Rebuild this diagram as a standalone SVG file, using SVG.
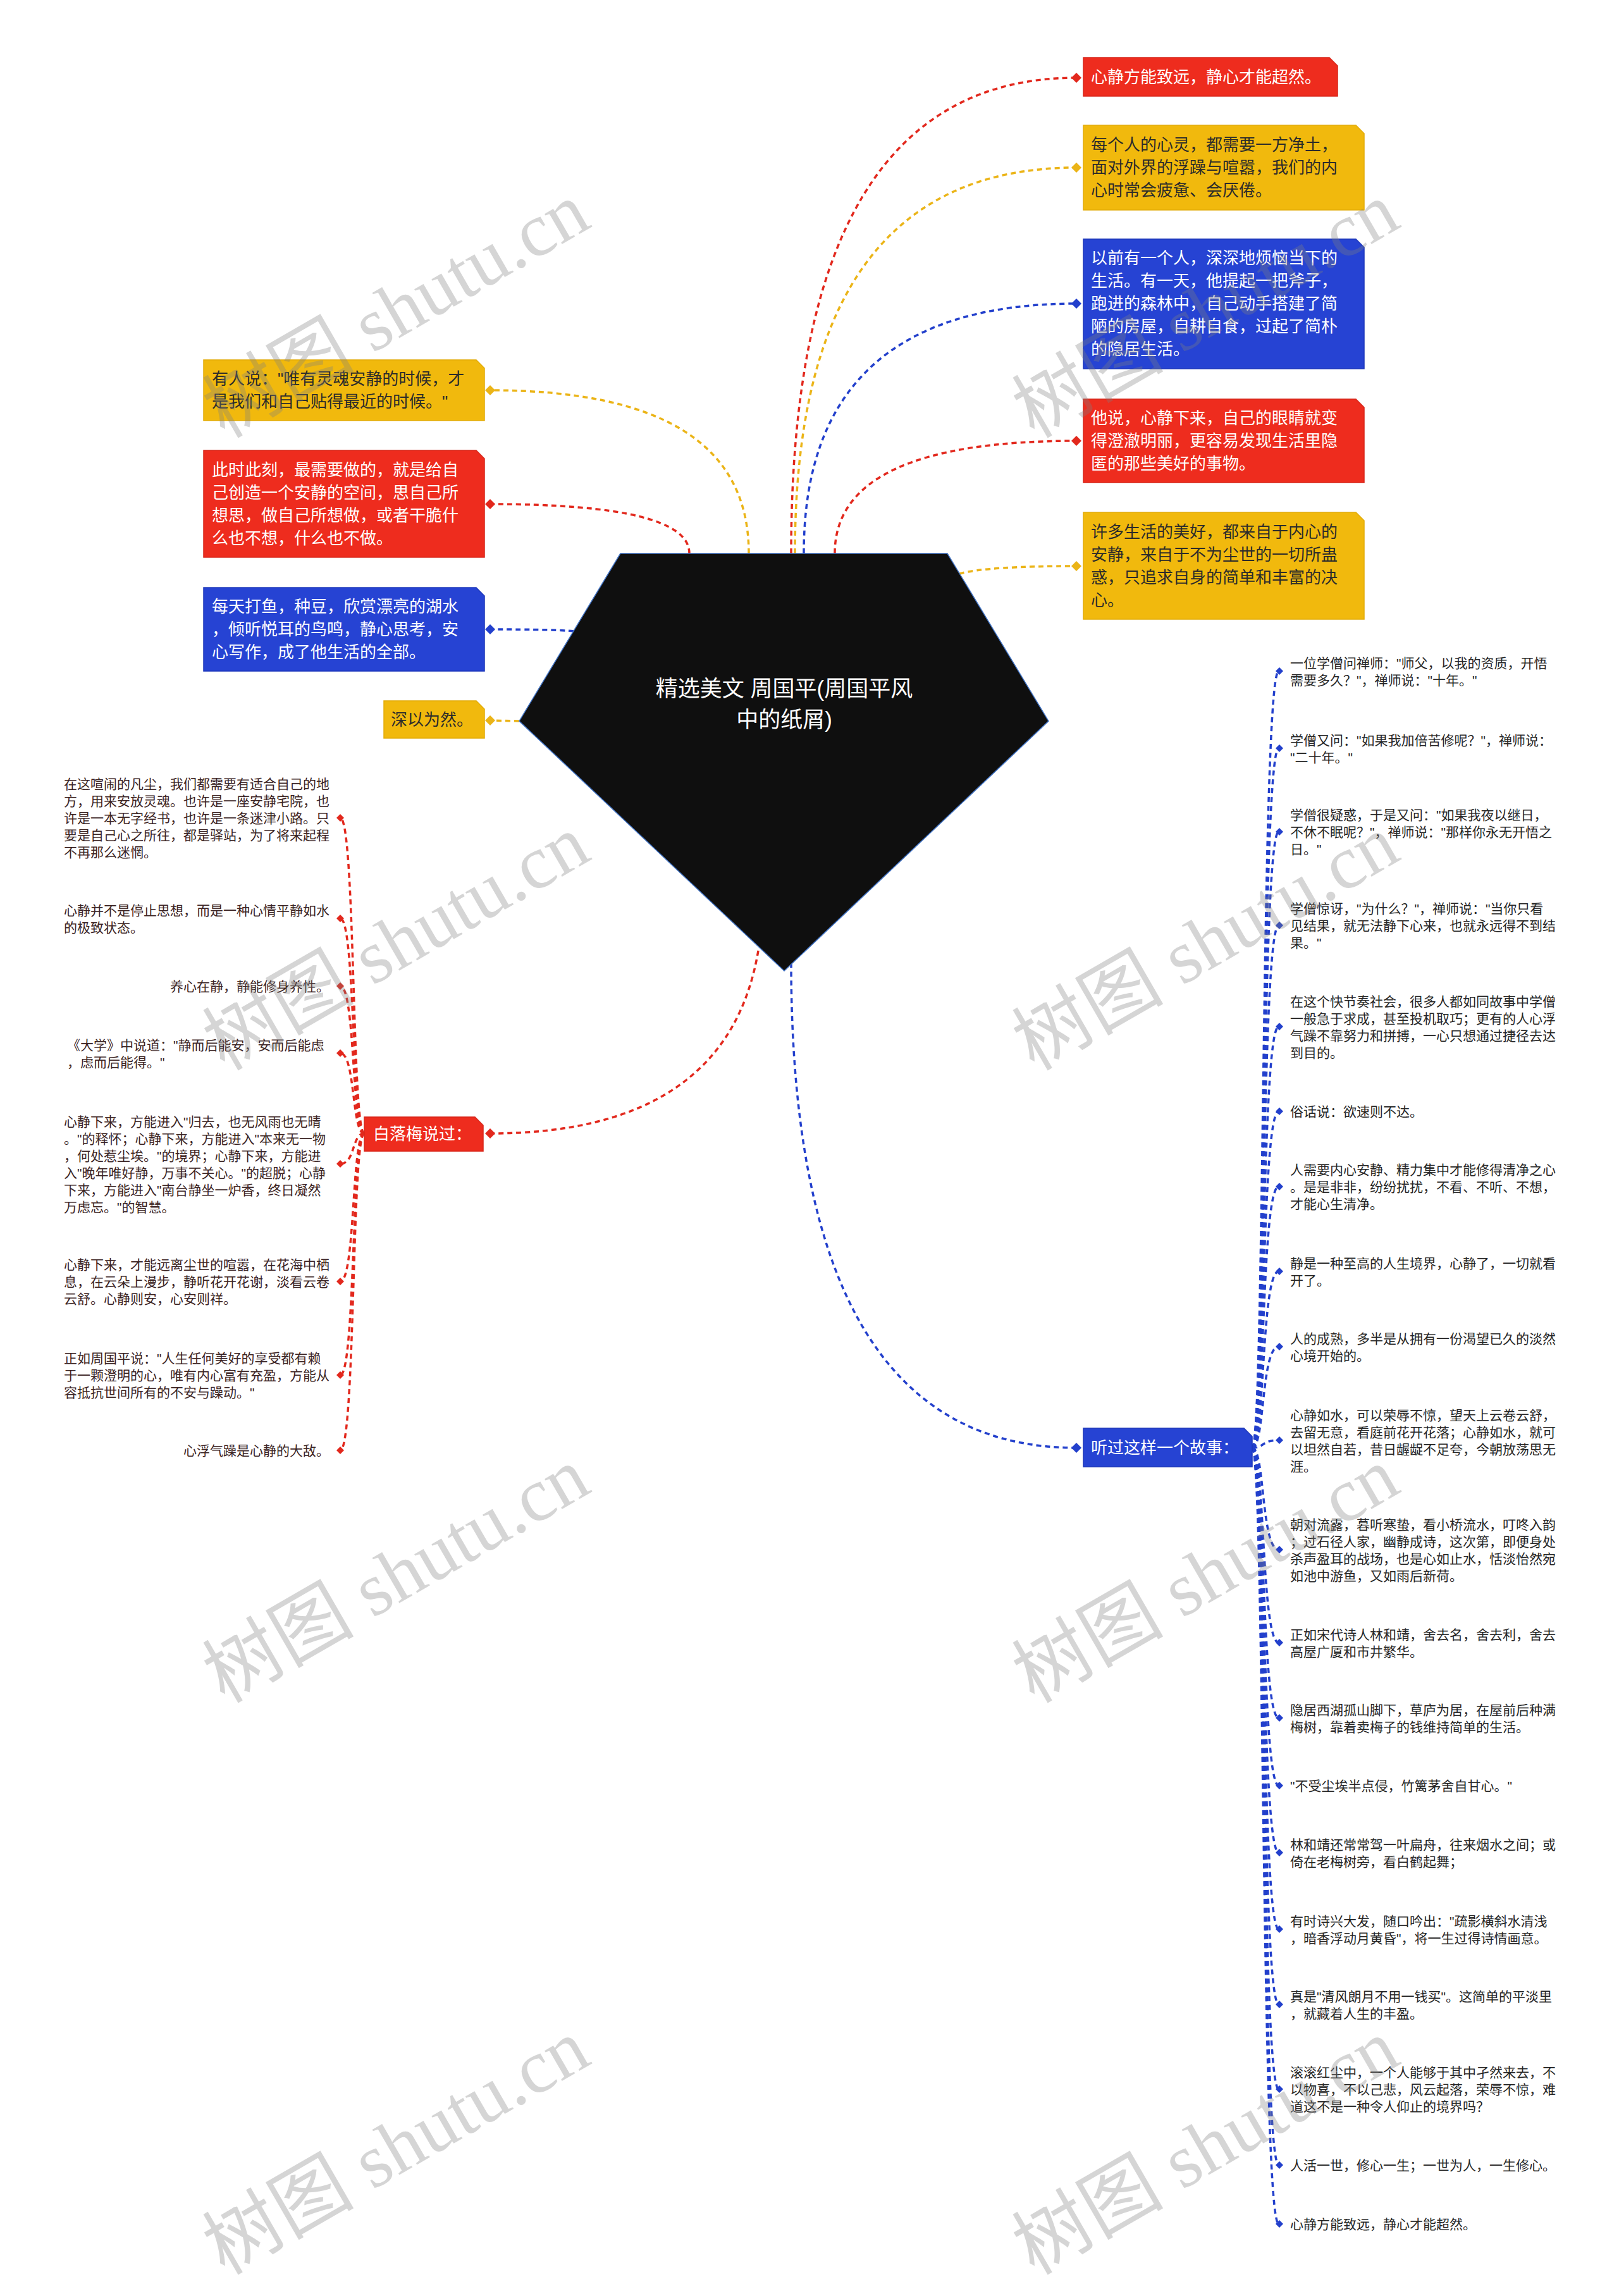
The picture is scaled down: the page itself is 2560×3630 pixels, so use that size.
<svg xmlns="http://www.w3.org/2000/svg" xmlns:xlink="http://www.w3.org/1999/xlink" width="2560" height="3630" viewBox="0 0 2560 3630">
<defs>
<style>
text{font-family:'Liberation Sans','Noto Sans CJK SC',sans-serif;dominant-baseline:central}
.conn{fill:none;stroke-width:3.5;stroke-dasharray:8 6}
.cr{stroke:#E2281D}.cy{stroke:#EBB417}.cb{stroke:#2340CC}
.fr{fill:#E2281D}.fy{fill:#EBB417}.fb{fill:#2340CC}
.br{fill:#EE2C1E;stroke:#D8261A;stroke-width:1.5}
.by{fill:#F1B90D;stroke:#E2AC0A;stroke-width:1.5}
.bb{fill:#2643D3;stroke:#1D37BB;stroke-width:1.5}
.tw{fill:#ffffff;font-size:26px}
.td{fill:#2b2b2b;font-size:26px}
.tl{fill:#3b2424;font-size:21px}
.tr{fill:#262626;font-size:21px}
#watermarks text{font-family:'Liberation Serif','Noto Sans CJK SC',serif;font-size:120px;fill:#808080;fill-opacity:0.33;dominant-baseline:alphabetic}
</style>
<path id="dm" d="M0,-8 L8,0 L0,8 L-8,0Z"/>
<path id="ds" d="M0,-6 L6,0 L0,6 L-6,0Z"/>
</defs>
<rect width="2560" height="3630" fill="#ffffff"/>

<g id="connectors">
<path class="conn cr" d="M1251,875 Q1251,123 1702,123"/>
<path class="conn cy" d="M1257,875 Q1257,265 1702,265"/>
<path class="conn cb" d="M1271,875 Q1271,480 1702,480"/>
<path class="conn cr" d="M1320,875 Q1320,697 1702,697"/>
<path class="conn cy" d="M1517,907 Q1560,895 1702,895"/>
<path class="conn cy" d="M1184,875 Q1184,617 775,617"/>
<path class="conn cr" d="M1090,875 Q1090,797 775,797"/>
<path class="conn cb" d="M907,998 Q880,995 775,995"/>
<path class="conn cy" d="M821,1140 L775,1139"/>
<path class="conn cr" d="M1199,1503 Q1150,1792 775,1792"/>
<path class="conn cb" d="M1251,1522 Q1251,2289 1702,2289"/>
<g class="fr"><use xlink:href="#dm" x="1702" y="123"/><use xlink:href="#dm" x="1702" y="697"/><use xlink:href="#dm" x="775" y="797"/><use xlink:href="#dm" x="775" y="1792"/></g>
<g class="fy"><use xlink:href="#dm" x="1702" y="265"/><use xlink:href="#dm" x="1702" y="895"/><use xlink:href="#dm" x="775" y="617"/><use xlink:href="#dm" x="775" y="1139"/></g>
<g class="fb"><use xlink:href="#dm" x="1702" y="480"/><use xlink:href="#dm" x="775" y="995"/><use xlink:href="#dm" x="1702" y="2289"/></g>
<g class="conn cr">
<path d="M576,1792 C556,1792 562,1293 538,1293"/>
<path d="M576,1792 C556,1792 562,1452 538,1452"/>
<path d="M576,1792 C556,1792 562,1559 538,1559"/>
<path d="M576,1792 C556,1792 562,1665 538,1665"/>
<path d="M576,1792 C556,1792 562,1840 538,1840"/>
<path d="M576,1792 C556,1792 562,2026 538,2026"/>
<path d="M576,1792 C556,1792 562,2174 538,2174"/>
<path d="M576,1792 C556,1792 562,2293 538,2293"/>
</g>
<g class="fr">
<use xlink:href="#ds" x="538" y="1293"/><use xlink:href="#ds" x="538" y="1452"/><use xlink:href="#ds" x="538" y="1559"/><use xlink:href="#ds" x="538" y="1665"/><use xlink:href="#ds" x="538" y="1840"/><use xlink:href="#ds" x="538" y="2026"/><use xlink:href="#ds" x="538" y="2174"/><use xlink:href="#ds" x="538" y="2293"/>
</g>
<g class="conn cb">
<path d="M1980,2289 C2000,2289 1994,1061 2022,1061"/>
<path d="M1980,2289 C2000,2289 1994,1183 2022,1183"/>
<path d="M1980,2289 C2000,2289 1994,1315 2022,1315"/>
<path d="M1980,2289 C2000,2289 1994,1463 2022,1463"/>
<path d="M1980,2289 C2000,2289 1994,1623 2022,1623"/>
<path d="M1980,2289 C2000,2289 1994,1757 2022,1757"/>
<path d="M1980,2289 C2000,2289 1994,1876 2022,1876"/>
<path d="M1980,2289 C2000,2289 1994,2010 2022,2010"/>
<path d="M1980,2289 C2000,2289 1994,2129 2022,2129"/>
<path d="M1980,2289 C2000,2289 1994,2277 2022,2277"/>
<path d="M1980,2289 C2000,2289 1994,2450 2022,2450"/>
<path d="M1980,2289 C2000,2289 1994,2597 2022,2597"/>
<path d="M1980,2289 C2000,2289 1994,2716 2022,2716"/>
<path d="M1980,2289 C2000,2289 1994,2823 2022,2823"/>
<path d="M1980,2289 C2000,2289 1994,2929 2022,2929"/>
<path d="M1980,2289 C2000,2289 1994,3050 2022,3050"/>
<path d="M1980,2289 C2000,2289 1994,3169 2022,3169"/>
<path d="M1980,2289 C2000,2289 1994,3303 2022,3303"/>
<path d="M1980,2289 C2000,2289 1994,3423 2022,3423"/>
<path d="M1980,2289 C2000,2289 1994,3516 2022,3516"/>
</g>
<g class="fb">
<use xlink:href="#ds" x="2023" y="1061"/><use xlink:href="#ds" x="2023" y="1183"/><use xlink:href="#ds" x="2023" y="1315"/><use xlink:href="#ds" x="2023" y="1463"/><use xlink:href="#ds" x="2023" y="1623"/><use xlink:href="#ds" x="2023" y="1757"/><use xlink:href="#ds" x="2023" y="1876"/><use xlink:href="#ds" x="2023" y="2010"/><use xlink:href="#ds" x="2023" y="2129"/><use xlink:href="#ds" x="2023" y="2277"/><use xlink:href="#ds" x="2023" y="2450"/><use xlink:href="#ds" x="2023" y="2597"/><use xlink:href="#ds" x="2023" y="2716"/><use xlink:href="#ds" x="2023" y="2823"/><use xlink:href="#ds" x="2023" y="2929"/><use xlink:href="#ds" x="2023" y="3050"/><use xlink:href="#ds" x="2023" y="3169"/><use xlink:href="#ds" x="2023" y="3303"/><use xlink:href="#ds" x="2023" y="3423"/><use xlink:href="#ds" x="2023" y="3516"/>
</g>
</g>

<g id="root">
<polygon points="981,875 1498,875 1658,1140 1240,1535 821,1140" fill="#0f0f0f" stroke="#4173c4" stroke-width="1.5"/>
<text fill="#ffffff" font-size="35" text-anchor="middle"><tspan x="1240" y="1088">精选美文 周国平(周国平风</tspan><tspan x="1240" y="1137">中的纸屑)</tspan></text>
</g>

<g id="r1"><path class="br" d="M1713,91 H2102 L2115,104 V152 H1713Z"/><text class="tw" x="1725" y="122">心静方能致远，静心才能超然。</text></g>
<g id="r2"><path class="by" d="M1713,198 H2144 L2157,211 V332 H1713Z"/><text class="td"><tspan x="1725" y="229">每个人的心灵，都需要一方净土，</tspan><tspan x="1725" y="265">面对外界的浮躁与喧嚣，我们的内</tspan><tspan x="1725" y="301">心时常会疲惫、会厌倦。</tspan></text></g>
<g id="r3"><path class="bb" d="M1713,378 H2144 L2157,391 V583 H1713Z"/><text class="tw"><tspan x="1725" y="408">以前有一个人，深深地烦恼当下的</tspan><tspan x="1725" y="444">生活。有一天，他提起一把斧子，</tspan><tspan x="1725" y="480">跑进的森林中，自己动手搭建了简</tspan><tspan x="1725" y="516">陋的房屋，自耕自食，过起了简朴</tspan><tspan x="1725" y="552">的隐居生活。</tspan></text></g>
<g id="r4"><path class="br" d="M1713,631 H2144 L2157,644 V763 H1713Z"/><text class="tw"><tspan x="1725" y="661">他说，心静下来，自己的眼睛就变</tspan><tspan x="1725" y="697">得澄澈明丽，更容易发现生活里隐</tspan><tspan x="1725" y="733">匿的那些美好的事物。</tspan></text></g>
<g id="r5"><path class="by" d="M1713,810 H2144 L2157,823 V979 H1713Z"/><text class="td"><tspan x="1725" y="841">许多生活的美好，都来自于内心的</tspan><tspan x="1725" y="877">安静，来自于不为尘世的一切所蛊</tspan><tspan x="1725" y="913">惑，只追求自身的简单和丰富的决</tspan><tspan x="1725" y="949">心。</tspan></text></g>

<g id="l1"><path class="by" d="M322,569 H753 L766,582 V665 H322Z"/><text class="td"><tspan x="335" y="599">有人说："唯有灵魂安静的时候，才</tspan><tspan x="335" y="635">是我们和自己贴得最近的时候。"</tspan></text></g>
<g id="l2"><path class="br" d="M322,712 H753 L766,725 V881 H322Z"/><text class="tw"><tspan x="335" y="743">此时此刻，最需要做的，就是给自</tspan><tspan x="335" y="779">己创造一个安静的空间，思自己所</tspan><tspan x="335" y="815">想思，做自己所想做，或者干脆什</tspan><tspan x="335" y="851">么也不想，什么也不做。</tspan></text></g>
<g id="l3"><path class="bb" d="M322,929 H753 L766,942 V1061 H322Z"/><text class="tw"><tspan x="335" y="959">每天打鱼，种豆，欣赏漂亮的湖水</tspan><tspan x="335" y="995">，倾听悦耳的鸟鸣，静心思考，安</tspan><tspan x="335" y="1031">心写作，成了他生活的全部。</tspan></text></g>
<g id="l4"><path class="by" d="M607,1108 H753 L766,1121 V1167 H607Z"/><text class="td" x="618" y="1138">深以为然。</text></g>

<g id="bailuomei"><path class="br" d="M576,1766 H751 L764,1779 V1820 H576Z"/><text class="tw" x="590" y="1793">白落梅说过：</text></g>
<g id="story"><path class="bb" d="M1713,2258 H1967 L1980,2271 V2319 H1713Z"/><text class="tw" x="1725" y="2289">听过这样一个故事：</text></g>

<g id="left-leaves" class="tl">
<text id="ll1"><tspan x="101" y="1239">在这喧闹的凡尘，我们都需要有适合自己的地</tspan><tspan x="101" y="1266">方，用来安放灵魂。也许是一座安静宅院，也</tspan><tspan x="101" y="1293">许是一本无字经书，也许是一条迷津小路。只</tspan><tspan x="101" y="1320">要是自己心之所往，都是驿站，为了将来起程</tspan><tspan x="101" y="1347">不再那么迷惘。</tspan></text>
<text id="ll2"><tspan x="101" y="1438.5">心静并不是停止思想，而是一种心情平静如水</tspan><tspan x="101" y="1465.5">的极致状态。</tspan></text>
<text id="ll3" x="521" y="1559" text-anchor="end">养心在静，静能修身养性。</text>
<text id="ll4"><tspan x="106" y="1651.5">《大学》中说道："静而后能安，安而后能虑</tspan><tspan x="106" y="1678.5">，虑而后能得。"</tspan></text>
<text id="ll5"><tspan x="101" y="1772.5">心静下来，方能进入"归去，也无风雨也无晴</tspan><tspan x="101" y="1799.5">。"的释怀；心静下来，方能进入"本来无一物</tspan><tspan x="101" y="1826.5">，何处惹尘埃。"的境界；心静下来，方能进</tspan><tspan x="101" y="1853.5">入"晚年唯好静，万事不关心。"的超脱；心静</tspan><tspan x="101" y="1880.5">下来，方能进入"南台静坐一炉香，终日凝然</tspan><tspan x="101" y="1907.5">万虑忘。"的智慧。</tspan></text>
<text id="ll6"><tspan x="101" y="1999">心静下来，才能远离尘世的喧嚣，在花海中栖</tspan><tspan x="101" y="2026">息，在云朵上漫步，静听花开花谢，淡看云卷</tspan><tspan x="101" y="2053">云舒。心静则安，心安则祥。</tspan></text>
<text id="ll7"><tspan x="101" y="2147">正如周国平说："人生任何美好的享受都有赖</tspan><tspan x="101" y="2174">于一颗澄明的心，唯有内心富有充盈，方能从</tspan><tspan x="101" y="2201">容抵抗世间所有的不安与躁动。"</tspan></text>
<text id="ll8" x="521" y="2293" text-anchor="end">心浮气躁是心静的大敌。</text>
</g>

<g id="right-leaves" class="tr">
<text id="rl1"><tspan x="2040" y="1047.5">一位学僧问禅师："师父，以我的资质，开悟</tspan><tspan x="2040" y="1074.5">需要多久？"，禅师说："十年。"</tspan></text>
<text id="rl2"><tspan x="2040" y="1169.5">学僧又问："如果我加倍苦修呢？"，禅师说：</tspan><tspan x="2040" y="1196.5">"二十年。"</tspan></text>
<text id="rl3"><tspan x="2040" y="1288">学僧很疑惑，于是又问："如果我夜以继日，</tspan><tspan x="2040" y="1315">不休不眠呢？"，禅师说："那样你永无开悟之</tspan><tspan x="2040" y="1342">日。"</tspan></text>
<text id="rl4"><tspan x="2040" y="1436">学僧惊讶，"为什么？"，禅师说："当你只看</tspan><tspan x="2040" y="1463">见结果，就无法静下心来，也就永远得不到结</tspan><tspan x="2040" y="1490">果。"</tspan></text>
<text id="rl5"><tspan x="2040" y="1582.5">在这个快节奏社会，很多人都如同故事中学僧</tspan><tspan x="2040" y="1609.5">一般急于求成，甚至投机取巧；更有的人心浮</tspan><tspan x="2040" y="1636.5">气躁不靠努力和拼搏，一心只想通过捷径去达</tspan><tspan x="2040" y="1663.5">到目的。</tspan></text>
<text id="rl6" x="2040" y="1757">俗话说：欲速则不达。</text>
<text id="rl7"><tspan x="2040" y="1849">人需要内心安静、精力集中才能修得清净之心</tspan><tspan x="2040" y="1876">。是是非非，纷纷扰扰，不看、不听、不想，</tspan><tspan x="2040" y="1903">才能心生清净。</tspan></text>
<text id="rl8"><tspan x="2040" y="1996.5">静是一种至高的人生境界，心静了，一切就看</tspan><tspan x="2040" y="2023.5">开了。</tspan></text>
<text id="rl9"><tspan x="2040" y="2115.5">人的成熟，多半是从拥有一份渴望已久的淡然</tspan><tspan x="2040" y="2142.5">心境开始的。</tspan></text>
<text id="rl10"><tspan x="2040" y="2236.5">心静如水，可以荣辱不惊，望天上云卷云舒，</tspan><tspan x="2040" y="2263.5">去留无意，看庭前花开花落；心静如水，就可</tspan><tspan x="2040" y="2290.5">以坦然自若，昔日龌龊不足夸，今朝放荡思无</tspan><tspan x="2040" y="2317.5">涯。</tspan></text>
<text id="rl11"><tspan x="2040" y="2409.5">朝对流露，暮听寒蛰，看小桥流水，叮咚入韵</tspan><tspan x="2040" y="2436.5">；过石径人家，幽静成诗，这次第，即便身处</tspan><tspan x="2040" y="2463.5">杀声盈耳的战场，也是心如止水，恬淡怡然宛</tspan><tspan x="2040" y="2490.5">如池中游鱼，又如雨后新荷。</tspan></text>
<text id="rl12"><tspan x="2040" y="2583.5">正如宋代诗人林和靖，舍去名，舍去利，舍去</tspan><tspan x="2040" y="2610.5">高屋广厦和市井繁华。</tspan></text>
<text id="rl13"><tspan x="2040" y="2702.5">隐居西湖孤山脚下，草庐为居，在屋前后种满</tspan><tspan x="2040" y="2729.5">梅树，靠着卖梅子的钱维持简单的生活。</tspan></text>
<text id="rl14" x="2040" y="2823">"不受尘埃半点侵，竹篱茅舍自甘心。"</text>
<text id="rl15"><tspan x="2040" y="2915.5">林和靖还常常驾一叶扁舟，往来烟水之间；或</tspan><tspan x="2040" y="2942.5">倚在老梅树旁，看白鹤起舞；</tspan></text>
<text id="rl16"><tspan x="2040" y="3036.5">有时诗兴大发，随口吟出："疏影横斜水清浅</tspan><tspan x="2040" y="3063.5">，暗香浮动月黄昏"，将一生过得诗情画意。</tspan></text>
<text id="rl17"><tspan x="2040" y="3155.5">真是"清风朗月不用一钱买"。这简单的平淡里</tspan><tspan x="2040" y="3182.5">，就藏着人生的丰盈。</tspan></text>
<text id="rl18"><tspan x="2040" y="3276">滚滚红尘中，一个人能够于其中孑然来去，不</tspan><tspan x="2040" y="3303">以物喜，不以己悲，风云起落，荣辱不惊，难</tspan><tspan x="2040" y="3330">道这不是一种令人仰止的境界吗？</tspan></text>
<text id="rl19" x="2040" y="3423">人活一世，修心一生；一世为人，一生修心。</text>
<text id="rl20" x="2040" y="3516">心静方能致远，静心才能超然。</text>
</g>

<g id="watermarks">
<text transform="translate(355,694) rotate(-30)">树图 shutu.cn</text>
<text transform="translate(1635,694) rotate(-30)">树图 shutu.cn</text>
<text transform="translate(355,1694) rotate(-30)">树图 shutu.cn</text>
<text transform="translate(1635,1694) rotate(-30)">树图 shutu.cn</text>
<text transform="translate(355,2694) rotate(-30)">树图 shutu.cn</text>
<text transform="translate(1635,2694) rotate(-30)">树图 shutu.cn</text>
<text transform="translate(355,3598) rotate(-30)">树图 shutu.cn</text>
<text transform="translate(1635,3598) rotate(-30)">树图 shutu.cn</text>
</g>
</svg>
